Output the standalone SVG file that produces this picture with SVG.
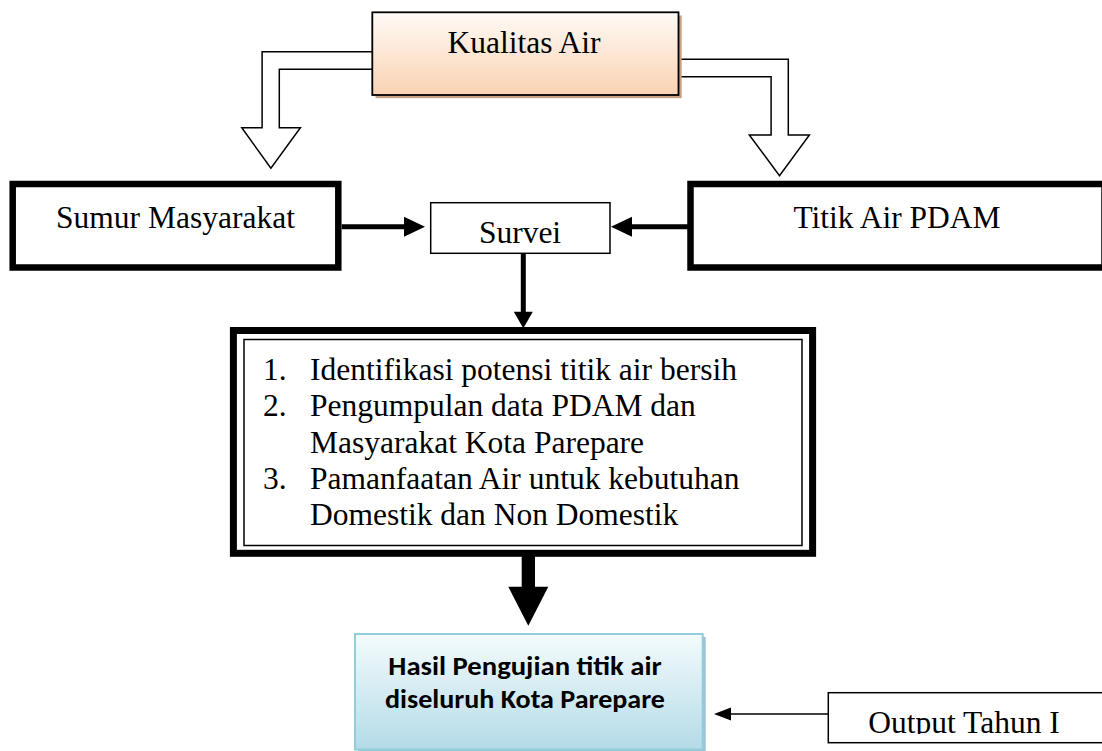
<svg xmlns="http://www.w3.org/2000/svg" width="1102" height="751" viewBox="0 0 1102 751">
<style>
.serif{font-family:"Liberation Serif","Times New Roman",serif;font-size:31.5px;fill:#000}
.bold{font-family:Carlito,Lato,"Open Sans",sans-serif;font-weight:bold;font-size:27px;fill:#000}
.hollow{fill:#fff;stroke:#000;stroke-width:1.5;stroke-linejoin:miter}
.thick{fill:#fff;stroke:#000;stroke-width:6.5}
.thin{fill:#fff;stroke:#000;stroke-width:1.5}
.line5{stroke:#000;stroke-width:5;fill:none}
.line1{stroke:#000;stroke-width:1.5;fill:none}
.head{fill:#000;stroke:none}
</style>
<defs>
<linearGradient id="peach" x1="0" y1="0" x2="0" y2="1">
<stop offset="0" stop-color="#fffaf6"/>
<stop offset="1" stop-color="#fad3b2"/>
</linearGradient>
<linearGradient id="blue" x1="0" y1="0" x2="0" y2="1">
<stop offset="0" stop-color="#f4fbfd"/>
<stop offset="1" stop-color="#b4dbe7"/>
</linearGradient>
<clipPath id="outClip"><rect x="828" y="692" width="274" height="42"/></clipPath>
</defs>

<g id="connectors">
<path class="hollow" d="M372.3,51.7 H262.1 V127.7 H241.8 L270.9,168.3 L300.4,127.7 H279.3 V69.3 H372.3"/>
<path class="hollow" d="M678.5,59.3 H788.3 V135 H809.4 L779.5,175.7 L749.3,135 H771.1 V76.7 H678.5"/>
<line class="line5" x1="341.7" y1="226.7" x2="405" y2="226.7"/>
<polygon class="head" points="404,216.7 425,226.7 404,236.7"/>
<line class="line5" x1="690" y1="226.7" x2="631" y2="226.7"/>
<polygon class="head" points="632,216.7 611,226.7 632,236.7"/>
<line class="line5" x1="523.3" y1="253.3" x2="523.3" y2="312.5"/>
<polygon class="head" points="513.8,311.7 532.8,311.7 523.3,328.3"/>
<rect class="head" x="521.7" y="548" width="13.3" height="39.5"/>
<polygon class="head" points="508.3,586.7 548.3,586.7 528.3,625.7"/>
<line class="line1" x1="828.3" y1="714" x2="725" y2="714"/>
<polygon class="head" points="731,707.5 714,714 731,720.5"/>
</g>

<g id="node-kualitas">
<rect x="375.5" y="15.5" width="306.2" height="82.7" fill="#c9a283"/>
<rect x="372.3" y="12.3" width="306.2" height="82.7" fill="url(#peach)" stroke="#000" stroke-width="1.8"/>
<text class="serif" x="524" y="53.3" text-anchor="middle">Kualitas Air</text>
</g>

<g id="node-sumur">
<rect class="thick" x="12.7" y="184" width="325.6" height="83.5"/>
<text class="serif" x="175.5" y="228.3" text-anchor="middle">Sumur Masyarakat</text>
</g>

<g id="node-titik">
<rect class="thick" x="690.5" y="184" width="414" height="83.5"/>
<text class="serif" x="897" y="228.3" text-anchor="middle">Titik Air PDAM</text>
</g>

<g id="node-survei">
<rect class="thin" x="430.7" y="202.7" width="179.3" height="50.6"/>
<text class="serif" x="520" y="242.7" text-anchor="middle">Survei</text>
</g>

<g id="node-list">
<rect x="233.4" y="330.5" width="579.2" height="222.8" fill="#fff" stroke="#000" stroke-width="7"/>
<rect x="244" y="339.5" width="558" height="206" fill="none" stroke="#000" stroke-width="1.5"/>
<text class="serif" x="262.9" y="380">1.</text>
<text class="serif" x="310" y="380">Identifikasi potensi titik air bersih</text>
<text class="serif" x="262.9" y="416.25">2.</text>
<text class="serif" x="310" y="416.25">Pengumpulan data PDAM dan</text>
<text class="serif" x="310" y="452.5">Masyarakat Kota Parepare</text>
<text class="serif" x="262.9" y="488.75">3.</text>
<text class="serif" x="310" y="488.75">Pamanfaatan Air untuk kebutuhan</text>
<text class="serif" x="310" y="525">Domestik dan Non Domestik</text>
</g>

<g id="node-hasil">
<rect x="358" y="637" width="347.7" height="115.5" fill="#9dc4d0"/>
<rect x="355" y="634" width="347.7" height="115.5" fill="url(#blue)" stroke="#92cddc" stroke-width="2"/>
<text class="bold" x="525" y="675" text-anchor="middle" textLength="273.4" lengthAdjust="spacingAndGlyphs">Hasil Pengujian titik air</text>
<text class="bold" x="525" y="708.3" text-anchor="middle" textLength="280" lengthAdjust="spacingAndGlyphs">diseluruh Kota Parepare</text>
</g>

<g id="node-output">
<rect class="thin" x="828.3" y="692.7" width="280" height="50"/>
<text class="serif" x="868.3" y="732.5" clip-path="url(#outClip)">Output Tahun I</text>
</g>
</svg>
